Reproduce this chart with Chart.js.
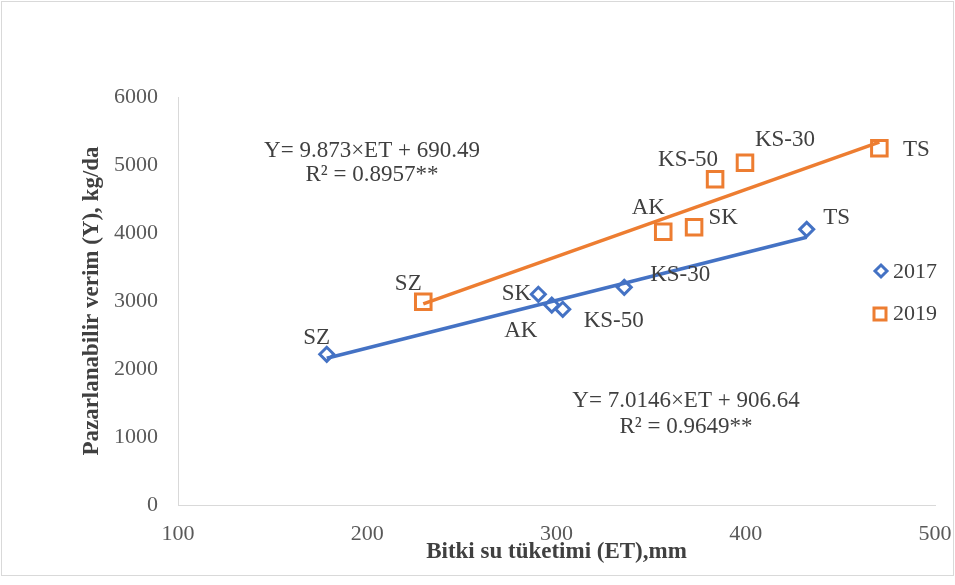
<!DOCTYPE html>
<html>
<head>
<meta charset="utf-8">
<script src="https://cdn.jsdelivr.net/npm/chart.js@4/dist/chart.umd.min.js"></script>
<style>
html,body{margin:0;padding:0;background:#fff;}
#c{display:block;}
</style>
</head>
<body>
<canvas id="c" width="955" height="585"></canvas>
<script>
// ---- data ----
const labels2017 = ['SZ', 'SK', 'AK', 'KS-50', 'KS-30', 'TS'];
const et2017 = [178.6, 290.4, 297.5, 303.3, 335.8, 432.2];
const yield2017 = [2216, 3099, 2941, 2878, 3201, 4054];

const labels2019 = ['SZ', 'AK', 'SK', 'KS-50', 'KS-30', 'TS'];
const et2019 = [229.6, 356.4, 372.7, 383.8, 399.6, 470.6];
const yield2019 = [2990, 4019, 4084, 4790, 5034, 5246];

// trendline end points
const trendX2017 = [178.6, 432.2];
const trendY2017 = [2159, 3938];
const trendX2019 = [229.6, 470.6];
const trendY2019 = [2957, 5337];

const seriesNames = ['2017', '2019'];
const eq2017 = ['Y= 7.0146\u00d7ET + 906.64', 'R\u00b2 = 0.9649**'];
const eq2019 = ['Y= 9.873\u00d7ET + 690.49', 'R\u00b2 = 0.8957**'];

const xTicks = [100, 200, 300, 400, 500];
const yTicks = [0, 1000, 2000, 3000, 4000, 5000, 6000];

// ---- styles ----
const BLUE = '#4472C4';
const ORANGE = '#ED7D31';
const TEXT = '#404040';
const TICK = '#595959';
const FONT = '"Liberation Serif", "Times New Roman", serif';
const labelOffsets2017 = [[-10,-16],[-22,0],[-31,26],[51,12],[56,-12],[30,-11]];
const labelOffsets2019 = [[-15,-18],[-15,-24],[29,-9],[-27,-19],[40,-23],[37,2]];

const pts = (xs, ys) => xs.map((x, i) => ({x: x, y: ys[i]}));

const annotPlugin = {
  id: 'annot',
  beforeDraw(chart) {
    const ctx = chart.ctx;
    ctx.save();
    ctx.fillStyle = '#fff';
    ctx.fillRect(0, 0, chart.width, chart.height);
    ctx.strokeStyle = '#d9d9d9';
    ctx.lineWidth = 1;
    ctx.strokeRect(1.5, 1.5, chart.width - 3, 574);
    ctx.restore();
  },
  afterDatasetsDraw(chart) {
    const ctx = chart.ctx;
    ctx.save();
    ctx.font = '23px ' + FONT;
    ctx.fillStyle = TEXT;
    ctx.textAlign = 'center';
    ctx.textBaseline = 'middle';
    const drawLabels = (dsIndex, names, offs) => {
      const meta = chart.getDatasetMeta(dsIndex);
      meta.data.forEach((el, i) => {
        ctx.fillText(names[i], el.x + offs[i][0], el.y + offs[i][1]);
      });
    };
    drawLabels(2, labels2017, labelOffsets2017);
    drawLabels(3, labels2019, labelOffsets2019);

    // equations
    ctx.fillText(eq2019[0], 372, 151);
    ctx.fillText(eq2019[1], 372, 175);
    ctx.fillText(eq2017[0], 686, 401);
    ctx.fillText(eq2017[1], 686, 427);

    // legend
    ctx.textAlign = 'left';
    ctx.font = '22px ' + FONT;
    ctx.lineWidth = 3;
    ctx.strokeStyle = BLUE;
    ctx.fillStyle = '#fff';
    const dx = 881, dy = 271, r = 6;
    ctx.beginPath();
    ctx.moveTo(dx, dy - r); ctx.lineTo(dx + r, dy); ctx.lineTo(dx, dy + r); ctx.lineTo(dx - r, dy); ctx.closePath();
    ctx.fill(); ctx.stroke();
    ctx.strokeStyle = ORANGE;
    ctx.beginPath();
    ctx.rect(874, 308, 12, 12);
    ctx.fill(); ctx.stroke();
    ctx.fillStyle = TEXT;
    ctx.fillText(seriesNames[0], 893, 272);
    ctx.fillText(seriesNames[1], 893, 314);
    ctx.restore();
  }
};

new Chart(document.getElementById('c'), {
  type: 'scatter',
  data: {
    datasets: [
      {
        label: 'trend2017', data: pts(trendX2017, trendY2017), showLine: true,
        borderColor: BLUE, borderWidth: 3.5, pointRadius: 0, order: 0
      },
      {
        label: 'trend2019', data: pts(trendX2019, trendY2019), showLine: true,
        borderColor: ORANGE, borderWidth: 3.5, pointRadius: 0, order: 0
      },
      {
        label: seriesNames[0], data: pts(et2017, yield2017),
        pointStyle: 'rectRot', pointRadius: 7, borderWidth: 3,
        borderColor: BLUE, backgroundColor: '#fff', order: 1
      },
      {
        label: seriesNames[1], data: pts(et2019, yield2019),
        pointStyle: 'rect', pointRadius: 11, borderWidth: 3,
        borderColor: ORANGE, backgroundColor: '#fff', order: 1
      }
    ]
  },
  options: {
    responsive: false,
    animation: false,
    layout: { padding: { left: 0, top: 97, right: 20, bottom: 0 } },
    plugins: { legend: { display: false }, tooltip: { enabled: false } },
    scales: {
      x: {
        type: 'linear', min: 100, max: 500,
        afterBuildTicks: (s) => { s.ticks = xTicks.map(v => ({value: v})); },
        afterFit: (s) => { s.height = 80; s.paddingLeft = 0; s.paddingRight = 0; },
        grid: { display: false, drawTicks: false },
        border: { display: true, color: '#d9d9d9', width: 1 },
        ticks: { color: TICK, font: { family: FONT, size: 22 }, padding: 16, maxRotation: 0,
                 callback: (v) => String(v) },
        title: {
          display: true, text: 'Bitki su tüketimi (ET),mm', color: TEXT,
          font: { family: FONT, size: 23, weight: 'bold' }, padding: { top: 0, bottom: 19 }
        }
      },
      y: {
        type: 'linear', min: 0, max: 6000,
        afterBuildTicks: (s) => { s.ticks = yTicks.map(v => ({value: v})); },
        afterFit: (s) => { s.width = 178; s.paddingTop = 0; s.paddingBottom = 0; },
        grid: { display: false, drawTicks: false },
        border: { display: true, color: '#d9d9d9', width: 1 },
        ticks: { color: TICK, font: { family: FONT, size: 22 }, padding: 20,
                 callback: (v) => String(v) },
        title: {
          display: true, text: 'Pazarlanabilir verim (Y), kg/da', color: TEXT,
          font: { family: FONT, size: 23, weight: 'bold' }, padding: { top: 78, bottom: 0 }
        }
      }
    }
  },
  plugins: [annotPlugin]
});
</script>
</body>
</html>
